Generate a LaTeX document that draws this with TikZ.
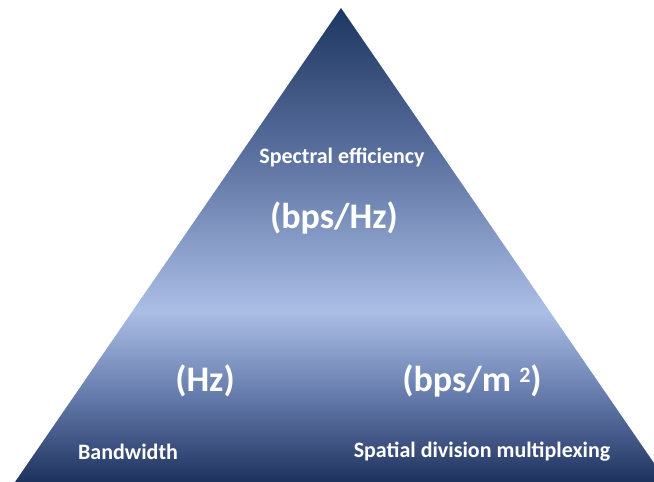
\documentclass[tikz,border=0pt]{standalone}
\usepackage{fontspec}
\setmainfont{Carlito}
\usepackage{tikz}
\definecolor{pyrtop}{RGB}{30,54,98}
\definecolor{pyrupper}{RGB}{88,110,156}
\definecolor{pyrlight}{RGB}{170,190,230}
\definecolor{pyrlower}{RGB}{100,122,170}
\definecolor{pyrbot}{RGB}{30,50,94}
\pgfdeclareverticalshading{pyramid}{100bp}{color(0bp)=(pyrbot); color(25bp)=(pyrbot); color(34bp)=(pyrlower); color(43bp)=(pyrlight); color(60bp)=(pyrupper); color(75bp)=(pyrtop); color(100bp)=(pyrtop)}

\begin{document}
\begin{tikzpicture}[x=1pt,y=1pt,
        small/.style={text=white,font=\bfseries\fontsize{22}{26}\selectfont},
        big/.style={text=white,font=\bfseries\fontsize{36}{42}\selectfont}]
        \useasboundingbox (0,0) rectangle (654,482);
        \clip (0,0) rectangle (654,482);
        \shade[shading=pyramid] (15,0) -- (341,474) -- (667,0) -- cycle;
        \node[small] (spectral) at (342,325) {Spectral efficiency};
        \node[big] (bpshz) at (334,264) {(bps/Hz)};
        \node[big] (hz) at (205,101) {(Hz)};
        \node[big] (bpsm) at (472,101) {(bps/m \raisebox{0.5ex}{\fontsize{22}{26}\selectfont 2})};
        \node[small] (bandwidth) at (128,30) {Bandwidth};
        \node[small] (sdm) at (482,30) {Spatial division multiplexing};
    \end{tikzpicture}
\end{document}
